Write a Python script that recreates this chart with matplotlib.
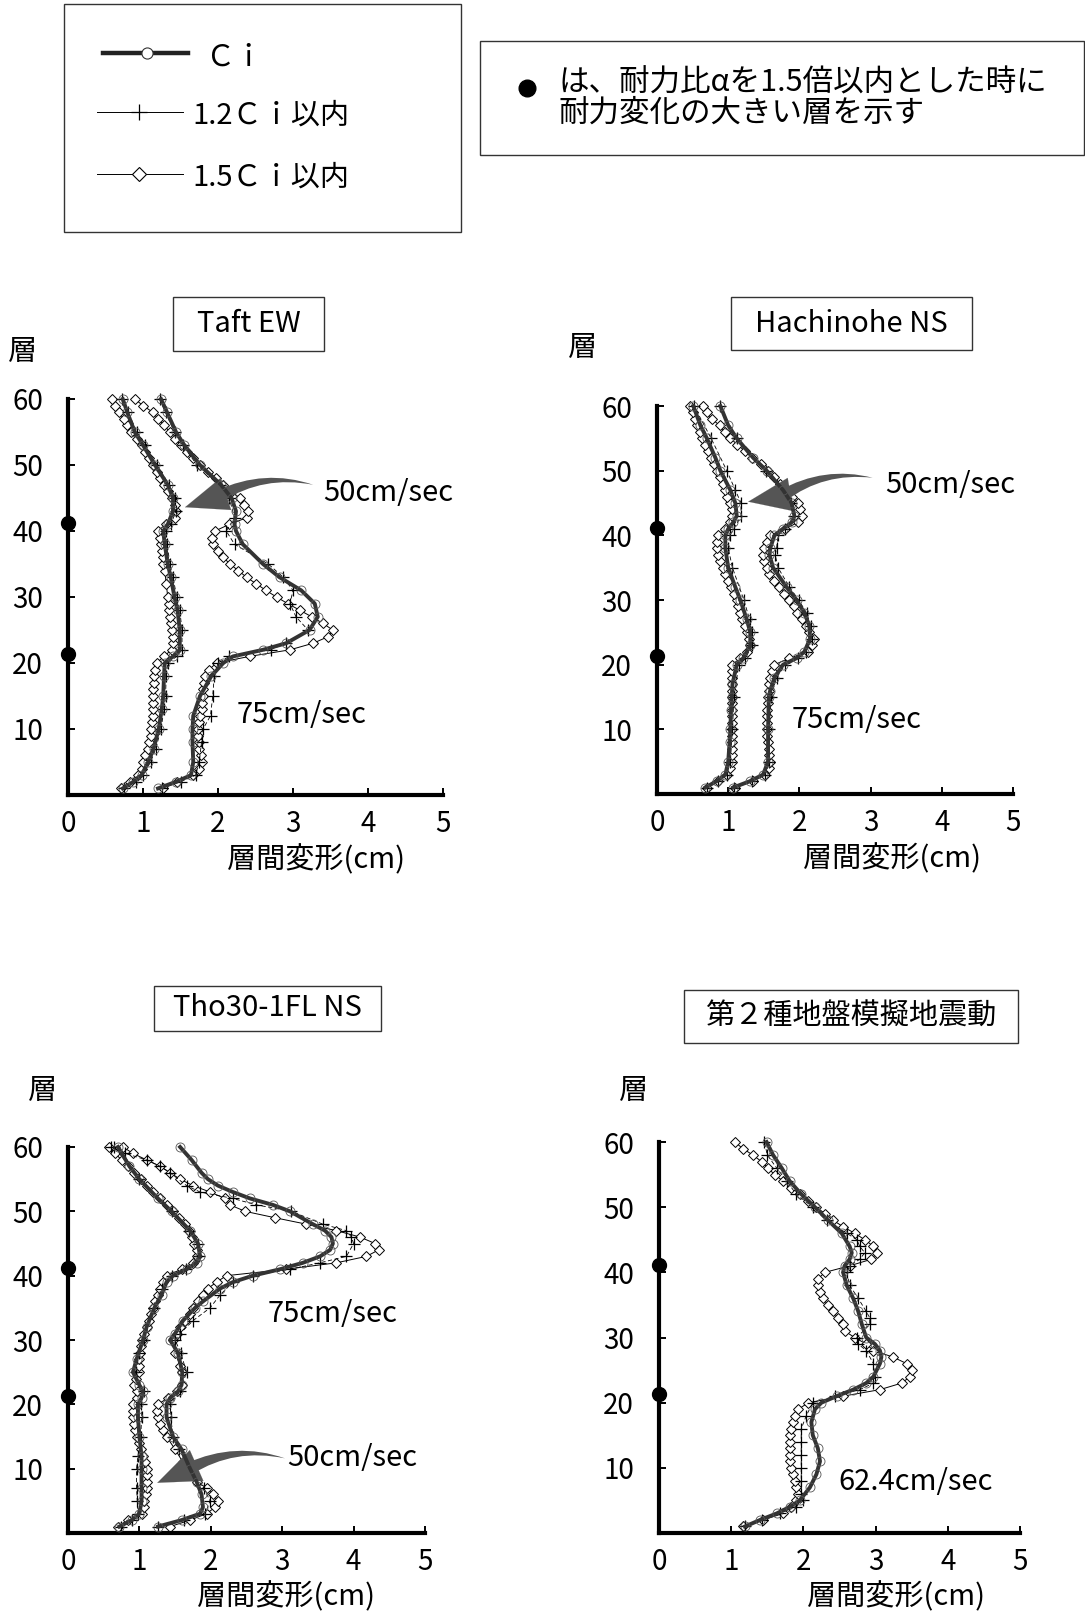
import matplotlib
matplotlib.use("Agg")
import matplotlib.pyplot as plt
from matplotlib.patches import Rectangle
from matplotlib.lines import Line2D

plt.rcParams['font.family'] = ['Noto Sans CJK JP', 'DejaVu Sans']

# --- データ: (層, 層間変形 cm) ---
# Taft EW
taft50_ci = [(1,0.73),(2,0.87),(3,0.98),(5,1.07),(7,1.14),(10,1.21),(13,1.25),(15,1.27),(18,1.28),(20,1.29),
             (21,1.40),(22,1.49),(25,1.49),(28,1.46),(30,1.42),(33,1.37),(35,1.33),(38,1.29),(40,1.27),(41,1.33),
             (43,1.40),(45,1.40),(47,1.33),(50,1.16),(53,1.00),(55,0.89),(58,0.79),(60,0.73)]
taft50_12 = [(1,0.75),(2,0.90),(3,1.00),(5,1.10),(7,1.17),(10,1.24),(13,1.28),(15,1.30),(18,1.31),(20,1.33),
             (21,1.45),(22,1.52),(25,1.52),(28,1.49),(30,1.45),(33,1.40),(35,1.36),(38,1.32),(40,1.30),(41,1.37),
             (43,1.44),(45,1.43),(47,1.35),(50,1.18),(53,1.02),(55,0.92),(58,0.80),(60,0.72)]
taft50_15 = [(1,0.70),(2,0.82),(3,0.93),(4,0.98),(5,1.00),(6,1.03),(7,1.06),(8,1.08),(9,1.10),(10,1.11),
             (11,1.12),(12,1.13),(13,1.13),(14,1.13),(15,1.13),(16,1.13),(17,1.14),(18,1.15),(19,1.16),(20,1.18),
             (21,1.28),(22,1.38),(23,1.40),(24,1.40),(25,1.38),(26,1.37),(27,1.36),(28,1.35),(29,1.34),(30,1.33),
             (32,1.31),(34,1.29),(35,1.27),(36,1.26),(37,1.25),(38,1.24),(39,1.22),(40,1.20),(41,1.30),(42,1.42),
             (43,1.44),(44,1.42),(45,1.38),(46,1.33),(47,1.28),(48,1.23),(49,1.18),(50,1.13),(51,1.08),(52,1.03),
             (53,0.98),(54,0.92),(55,0.84),(56,0.79),(57,0.74),(58,0.68),(59,0.63),(60,0.58)]
taft75_ci = [(1,1.20),(2,1.44),(3,1.64),(5,1.67),(8,1.66),(10,1.66),(12,1.67),(15,1.76),(18,1.91),(20,2.07),
             (21,2.20),(22,2.60),(23,2.91),(25,3.22),(27,3.33),(29,3.29),(31,3.11),(33,2.82),(35,2.60),(38,2.33),
             (40,2.24),(41,2.22),(43,2.24),(45,2.18),(47,2.04),(50,1.76),(53,1.55),(55,1.44),(58,1.32),(60,1.24)]
taft75_12 = [(1,1.25),(2,1.50),(3,1.70),(5,1.75),(8,1.78),(10,1.80),(12,1.90),(15,1.93),(18,1.95),(20,2.00),
             (21,2.15),(22,2.70),(23,2.90),(25,3.20),(27,3.04),(29,2.96),(31,3.00),(33,2.87),(35,2.67),(38,2.22),
             (40,2.11),(42,2.22),(45,2.15),(47,2.02),(50,1.72),(53,1.53),(55,1.42),(58,1.30),(60,1.22)]
taft75_15 = [(1,1.27),(2,1.45),(3,1.67),(4,1.75),(5,1.78),(6,1.77),(7,1.75),(8,1.74),(9,1.73),(10,1.73),
             (11,1.74),(12,1.76),(13,1.78),(14,1.79),(15,1.80),(16,1.80),(17,1.81),(18,1.82),(19,1.88),(20,1.98),
             (21,2.42),(22,2.96),(23,3.27),(24,3.47),(25,3.53),(26,3.40),(27,3.25),(28,3.09),(29,2.93),(30,2.78),
             (31,2.64),(32,2.51),(33,2.38),(34,2.27),(35,2.16),(36,2.07),(37,2.00),(38,1.93),(39,1.92),(40,1.96),
             (41,2.15),(42,2.38),(43,2.40),(44,2.35),(45,2.29),(46,2.18),(47,2.07),(48,1.97),(49,1.87),(50,1.76),
             (51,1.67),(52,1.58),(53,1.50),(54,1.43),(55,1.36),(56,1.28),(57,1.20),(58,1.13),(59,1.00),(60,0.89)]

# Hachinohe NS
hachi50_ci = [(1,0.68),(2,0.84),(3,0.96),(5,1.00),(8,1.02),(10,1.03),(13,1.04),(15,1.05),(17,1.06),(20,1.12),
              (21,1.21),(23,1.31),(25,1.31),(27,1.26),(30,1.17),(32,1.10),(35,1.00),(38,0.96),(40,0.96),(41,1.00),
              (42,1.07),(43,1.12),(45,1.10),(47,1.03),(50,0.89),(52,0.82),(55,0.70),(57,0.61),(60,0.51)]
hachi50_12 = [(1,0.70),(2,0.86),(3,0.98),(5,1.03),(10,1.06),(15,1.08),(20,1.15),(21,1.24),(23,1.34),(25,1.34),
              (27,1.30),(30,1.22),(35,1.06),(38,1.00),(40,1.02),(41,1.08),(43,1.18),(45,1.18),(47,1.10),(50,0.98),
              (55,0.76),(60,0.52)]
hachi50_15 = [(1,0.70),(2,0.85),(3,0.98),(4,1.03),(5,1.05),(6,1.05),(7,1.05),(8,1.05),(9,1.05),(10,1.05),
              (11,1.05),(12,1.05),(13,1.05),(14,1.05),(15,1.05),(16,1.05),(17,1.05),(18,1.05),(19,1.05),(20,1.06),
              (21,1.17),(22,1.26),(23,1.31),(24,1.29),(25,1.26),(26,1.23),(27,1.20),(28,1.17),(29,1.14),(30,1.12),
              (31,1.08),(32,1.04),(33,1.00),(34,0.96),(35,0.93),(36,0.89),(37,0.86),(38,0.84),(39,0.84),(40,0.86),
              (41,0.96),(42,1.03),(43,1.05),(44,1.05),(45,1.03),(46,0.99),(47,0.95),(48,0.92),(49,0.88),(50,0.84),
              (51,0.80),(52,0.76),(53,0.71),(54,0.67),(55,0.63),(56,0.60),(57,0.56),(58,0.53),(59,0.50),(60,0.47)]
hachi75_ci = [(1,1.07),(2,1.31),(3,1.49),(5,1.56),(10,1.56),(15,1.57),(16,1.59),(18,1.65),(20,1.77),(21,1.96),
              (22,2.07),(24,2.15),(26,2.14),(28,2.07),(30,1.96),(32,1.82),(35,1.63),(37,1.58),(38,1.59),(40,1.65),
              (41,1.77),(42,1.89),(43,1.93),(45,1.89),(47,1.77),(50,1.54),(52,1.35),(55,1.12),(57,1.00),(60,0.89)]
hachi75_12 = [(1,1.08),(2,1.33),(3,1.52),(5,1.58),(10,1.58),(15,1.60),(18,1.68),(20,1.80),(21,1.98),(22,2.09),
              (24,2.17),(26,2.16),(28,2.10),(30,1.99),(32,1.86),(35,1.70),(37,1.66),(38,1.68),(40,1.70),(41,1.80),
              (43,1.93),(45,1.88),(47,1.76),(50,1.53),(55,1.12),(60,0.88)]
hachi75_15 = [(1,1.10),(2,1.35),(3,1.52),(4,1.58),(5,1.59),(6,1.58),(7,1.57),(8,1.56),(9,1.55),(10,1.55),
              (11,1.55),(12,1.55),(13,1.55),(14,1.56),(15,1.56),(16,1.57),(17,1.58),(18,1.59),(19,1.62),(20,1.65),
              (21,1.86),(22,2.12),(23,2.18),(24,2.21),(25,2.14),(26,2.09),(27,2.03),(28,1.97),(29,1.92),(30,1.86),
              (31,1.79),(32,1.72),(33,1.65),(34,1.58),(35,1.54),(36,1.50),(37,1.49),(38,1.50),(39,1.54),(40,1.59),
              (41,1.80),(42,1.98),(43,2.04),(44,2.01),(45,1.98),(46,1.90),(47,1.82),(48,1.73),(49,1.65),(50,1.56),
              (51,1.46),(52,1.33),(53,1.24),(54,1.13),(55,1.03),(56,0.95),(57,0.88),(58,0.77),(59,0.70),(60,0.65)]

# Tho30-1FL NS
tho50_ci = [(1,0.72),(2,0.89),(3,1.00),(5,1.03),(7,1.03),(10,1.03),(12,1.03),(15,1.00),(18,0.98),(20,0.98),
            (21,1.03),(22,1.05),(23,1.00),(25,0.91),(27,0.96),(30,1.05),(32,1.10),(35,1.21),(37,1.31),(39,1.38),
            (40,1.47),(41,1.66),(42,1.80),(43,1.85),(45,1.82),(47,1.71),(50,1.45),(52,1.26),(55,1.00),(57,0.86),
            (60,0.70)]
tho50_12 = [(1,0.74),(2,0.90),(3,0.98),(5,0.97),(7,0.96),(10,0.96),(12,0.98),(15,1.02),(18,1.03),(20,1.02),
            (22,1.06),(25,0.95),(28,1.00),(30,1.07),(35,1.20),(38,1.32),(40,1.45),(41,1.65),(43,1.84),(45,1.82),
            (47,1.70),(50,1.45),(55,1.00),(60,0.65)]
tho50_15 = [(1,0.70),(2,0.84),(3,1.03),(4,1.06),(5,1.07),(6,1.09),(7,1.10),(8,1.10),(9,1.10),(10,1.10),
            (11,1.08),(12,1.05),(13,1.02),(14,0.99),(15,0.96),(16,0.94),(17,0.92),(18,0.91),(19,0.91),(20,0.91),
            (21,0.96),(22,0.96),(23,0.93),(24,0.95),(25,1.00),(26,1.00),(27,1.00),(28,1.01),(29,1.02),(30,1.03),
            (31,1.06),(32,1.10),(33,1.13),(34,1.16),(35,1.19),(36,1.22),(37,1.26),(38,1.29),(39,1.33),(40,1.38),
            (41,1.59),(42,1.75),(43,1.80),(44,1.80),(45,1.77),(46,1.73),(47,1.69),(48,1.64),(49,1.56),(50,1.47),
            (51,1.38),(52,1.29),(53,1.19),(54,1.10),(55,1.02),(56,0.93),(57,0.84),(58,0.75),(59,0.66),(60,0.58)]
tho75_ci = [(1,1.26),(2,1.59),(3,1.85),(4,1.89),(6,1.87),(8,1.80),(10,1.71),(13,1.59),(15,1.47),(18,1.38),
            (20,1.38),(21,1.43),(22,1.54),(23,1.59),(25,1.60),(28,1.54),(30,1.43),(31,1.50),(33,1.61),(35,1.78),
            (36,1.89),(38,2.13),(39,2.31),(40,2.59),(41,2.97),(42,3.29),(43,3.53),(44,3.67),(45,3.71),(46,3.69),
            (47,3.60),(48,3.43),(50,3.11),(51,2.87),(52,2.55),(53,2.31),(54,2.10),(55,1.96),(56,1.87),(58,1.73),
            (60,1.57)]
tho75_12 = [(1,1.26),(2,1.62),(3,1.92),(5,1.99),(7,1.90),(10,1.71),(13,1.55),(15,1.47),(18,1.44),(20,1.43),
            (22,1.57),(25,1.66),(28,1.58),(30,1.50),(31,1.57),(33,1.75),(35,1.99),(37,2.13),(39,2.31),(40,2.59),
            (41,3.11),(42,3.53),(43,3.90),(45,4.00),(46,3.97),(47,3.90),(48,3.57),(50,3.13),(51,2.64),(52,2.31),
            (53,1.85),(54,1.66),(56,1.43),(57,1.29),(58,1.10),(59,0.80),(60,0.60)]
tho75_15 = [(1,1.43),(2,1.71),(3,1.94),(4,2.06),(5,2.10),(6,2.03),(7,1.94),(8,1.80),(9,1.73),(10,1.66),
            (11,1.61),(13,1.50),(15,1.38),(16,1.33),(17,1.29),(18,1.26),(19,1.24),(20,1.26),(21,1.40),(22,1.52),
            (23,1.59),(25,1.59),(26,1.57),(28,1.50),(30,1.47),(31,1.52),(32,1.57),(33,1.64),(34,1.71),(35,1.75),
            (36,1.82),(37,1.89),(38,1.96),(39,2.08),(40,2.22),(41,3.06),(42,3.76),(43,4.18),(44,4.35),(45,4.30),
            (46,4.09),(47,3.76),(48,3.34),(49,2.90),(50,2.48),(51,2.27),(52,2.20),(53,1.99),(54,1.75),(55,1.57),
            (56,1.43),(57,1.29),(58,1.10),(59,0.91),(60,0.77)]

# 第２種地盤模擬地震動 (62.4cm/sec)
dai2_ci = [(1,1.19),(2,1.40),(3,1.63),(4,1.81),(5,1.95),(7,2.09),(9,2.18),(11,2.23),(13,2.20),(15,2.13),
           (17,2.11),(19,2.16),(20,2.25),(21,2.46),(22,2.69),(23,2.87),(24,2.97),(26,3.06),(27,3.08),(28,3.06),
           (29,2.99),(30,2.87),(32,2.81),(34,2.76),(36,2.69),(38,2.60),(40,2.55),(41,2.57),(42,2.64),(43,2.67),
           (44,2.64),(46,2.53),(48,2.34),(50,2.16),(52,1.97),(54,1.81),(56,1.70),(58,1.58),(60,1.49)]
dai2_12 = [(1,1.19),(2,1.42),(3,1.67),(4,1.90),(5,2.00),(6,1.97),(8,1.97),(10,1.97),(12,1.97),(14,1.97),
           (16,1.97),(18,2.04),(20,2.13),(21,2.44),(22,2.78),(23,2.97),(24,2.99),(26,2.97),(28,2.87),(29,2.76),
           (30,2.74),(32,2.92),(33,2.92),(34,2.87),(36,2.76),(38,2.64),(40,2.60),(41,2.64),(42,2.78),(43,2.85),
           (44,2.78),(45,2.74),(46,2.60),(48,2.32),(50,2.13),(52,1.90),(54,1.77),(56,1.63),(58,1.50),(60,1.46)]
dai2_15 = [(1,1.16),(2,1.44),(3,1.72),(4,1.83),(5,1.90),(6,1.93),(7,1.90),(8,1.88),(9,1.85),(10,1.83),
           (11,1.82),(12,1.81),(13,1.81),(14,1.81),(15,1.82),(16,1.83),(17,1.85),(18,1.88),(19,1.93),(20,2.07),
           (21,2.55),(22,3.06),(23,3.36),(24,3.48),(25,3.50),(26,3.43),(27,3.24),(28,2.97),(29,2.87),(30,2.71),
           (31,2.57),(32,2.55),(33,2.48),(34,2.41),(35,2.34),(36,2.27),(37,2.23),(38,2.20),(39,2.20),(40,2.30),
           (41,2.64),(42,2.94),(43,3.02),(44,2.97),(45,2.85),(46,2.71),(47,2.55),(48,2.41),(49,2.30),(50,2.18),
           (51,2.06),(52,1.95),(53,1.83),(54,1.72),(55,1.60),(56,1.51),(57,1.42),(58,1.30),(59,1.16),(60,1.05)]

# 耐力変化の大きい層 (●)
weak_floors = [41.2, 21.3]

# --- 図の設定 ---
W, H = 1085, 1611
fig = plt.figure(figsize=(W / 100, H / 100), dpi=100)
fig.patch.set_facecolor('white')


def frac_rect(l, t, r, b):
    return [l / W, 1 - b / H, (r - l) / W, (b - t) / H]


def fx(x):
    return x / W


def fy(y):
    return 1 - y / H


def plot_set(ax, ci, c12, c15):
    y, x = zip(*c15)
    ax.plot(x, y, color='black', lw=0.7, marker='D', ms=5.5, mfc='white', mec='black',
            mew=0.7, zorder=2, clip_on=False)
    y, x = zip(*c12)
    ax.plot(x, y, color='black', lw=0.6, ls=(0, (5, 3)), marker='+', ms=9, mew=0.9,
            zorder=3, clip_on=False)
    y, x = zip(*ci)
    ax.plot(x, y, color='#333333', lw=2.8, marker='o', ms=6.5, mfc='none', mec='#555555',
            mew=0.6, zorder=4, clip_on=False)


def setup_axes(ax):
    ax.set_xlim(0, 5)
    ax.set_ylim(0, 60)
    for s in ['top', 'right']:
        ax.spines[s].set_visible(False)
    for s in ['left', 'bottom']:
        ax.spines[s].set_linewidth(3)
    ax.set_xticks(range(6))
    ax.set_yticks(range(10, 61, 10))
    ax.tick_params(axis='both', direction='in', length=5, width=1.4, labelsize=20)
    ax.tick_params(axis='y', pad=18)
    ax.tick_params(axis='x', pad=10)
    ax.plot([0] * len(weak_floors), weak_floors, 'o', color='black', ms=10, clip_on=False, zorder=6)


def arrow(ax, tail, base, head):
    # 胴体: 尾側が細く、頭側が太い
    ax.annotate('', xy=tail, xytext=base,
                arrowprops=dict(arrowstyle='wedge,tail_width=0.4,shrink_factor=0.5',
                                connectionstyle='arc3,rad=-0.2', color='#555555', lw=0,
                                mutation_scale=22, shrinkA=0, shrinkB=0))
    # 矢じり
    ax.annotate('', xy=head, xytext=base,
                arrowprops=dict(arrowstyle='-|>,head_length=1.4,head_width=0.55',
                                color='#555555', lw=0.1, fc='#555555',
                                mutation_scale=22, shrinkA=0, shrinkB=0))


def title_box(l, t, r, b, text):
    fig.add_artist(Rectangle((fx(l), fy(b)), (r - l) / W, (b - t) / H, transform=fig.transFigure,
                             fill=False, lw=1.0, ec='#333333'))
    fig.text(fx((l + r) / 2), fy((t + b) / 2), text, ha='center', va='center', fontsize=21)


panels = [
    dict(rect=(68, 399, 443, 795), title=(173, 297, 324, 351, 'Taft EW'), so=(23, 352),
         xl=(0.66, -0.164),
         sets=[(taft50_ci, taft50_12, taft50_15), (taft75_ci, taft75_12, taft75_15)],
         labels=[(3.40, 45.8, '50cm/sec'), (2.25, 12.1, '75cm/sec')],
         arrow=((3.27, 47.0), (2.02, 45.3), (1.56, 43.6))),
    dict(rect=(657, 406, 1013, 794), title=(731, 297, 972, 350, 'Hachinohe NS'), so=(583, 348),
         xl=(0.66, -0.168),
         sets=[(hachi50_ci, hachi50_12, hachi50_15), (hachi75_ci, hachi75_12, hachi75_15)],
         labels=[(3.20, 47.8, '50cm/sec'), (1.89, 11.5, '75cm/sec')],
         arrow=((3.03, 48.9), (1.76, 46.1), (1.28, 45.2))),
    dict(rect=(68, 1147, 425, 1533), title=(154, 986, 381, 1031, 'Tho30-1FL NS'), so=(43, 1091),
         xl=(0.61, -0.166),
         sets=[(tho50_ci, tho50_12, tho50_15), (tho75_ci, tho75_12, tho75_15)],
         labels=[(2.80, 34.1, '75cm/sec'), (3.07, 11.6, '50cm/sec')],
         arrow=((3.04, 11.6), (1.70, 10.0), (1.25, 7.8))),
    dict(rect=(659, 1142, 1020, 1533), title=(684, 990, 1018, 1043, '第２種地盤模擬地震動'), so=(634, 1091),
         xl=(0.656, -0.163),
         sets=[(dai2_ci, dai2_12, dai2_15)],
         labels=[(2.48, 7.8, '62.4cm/sec')],
         arrow=None),
]

for p in panels:
    ax = fig.add_axes(frac_rect(*p['rect']))
    setup_axes(ax)
    for ci, c12, c15 in p['sets']:
        plot_set(ax, ci, c12, c15)
    for x, y, t in p['labels']:
        ax.text(x, y, t, ha='left', va='center', fontsize=21, zorder=7)
    if p['arrow'] is not None:
        arrow(ax, *p['arrow'])
    ax.text(p['xl'][0], p['xl'][1], '層間変形(cm)', transform=ax.transAxes,
            ha='center', va='center', fontsize=21)
    title_box(*p['title'])
    fig.text(fx(p['so'][0]), fy(p['so'][1]), '層', ha='center', va='center', fontsize=21)

# --- 凡例 (左) ---
fig.add_artist(Rectangle((fx(64), fy(232)), (461 - 64) / W, (232 - 4) / H, transform=fig.transFigure,
                         fill=False, lw=1.0, ec='#333333'))
fig.add_artist(Line2D([fx(103), fx(188)], [fy(53), fy(53)], color='#222222', lw=3.2,
                      transform=fig.transFigure))
fig.add_artist(Line2D([fx(147)], [fy(53)], marker='o', ms=8, mfc='white', mec='#333333', mew=0.8,
                      transform=fig.transFigure))
fig.text(fx(205), fy(58), 'Ｃｉ', ha='left', va='center', fontsize=21)
fig.add_artist(Line2D([fx(97), fx(183)], [fy(112), fy(112)], color='black', lw=0.7,
                      transform=fig.transFigure))
fig.add_artist(Line2D([fx(139)], [fy(112)], marker='+', ms=11, color='black', mew=0.9,
                      transform=fig.transFigure))
fig.text(fx(192), fy(116), '1.2Ｃｉ以内', ha='left', va='center', fontsize=21)
fig.add_artist(Line2D([fx(97), fx(183)], [fy(174), fy(174)], color='black', lw=0.7,
                      transform=fig.transFigure))
fig.add_artist(Line2D([fx(139)], [fy(174)], marker='D', ms=7, mfc='white', mec='black', mew=0.8,
                      transform=fig.transFigure))
fig.text(fx(192), fy(178), '1.5Ｃｉ以内', ha='left', va='center', fontsize=21)

# --- 凡例 (右) ---
fig.add_artist(Rectangle((fx(480), fy(155)), (1084 - 480) / W, (155 - 41) / H, transform=fig.transFigure,
                         fill=False, lw=1.0, ec='#333333'))
fig.add_artist(Line2D([fx(527)], [fy(88)], marker='o', ms=12, color='black', transform=fig.transFigure))
fig.text(fx(558), fy(83), 'は、耐力比αを1.5倍以内とした時に', ha='left', va='center', fontsize=22)
fig.text(fx(558), fy(113), '耐力変化の大きい層を示す', ha='left', va='center', fontsize=22)

fig.savefig('out.png', dpi=100, facecolor='white')
